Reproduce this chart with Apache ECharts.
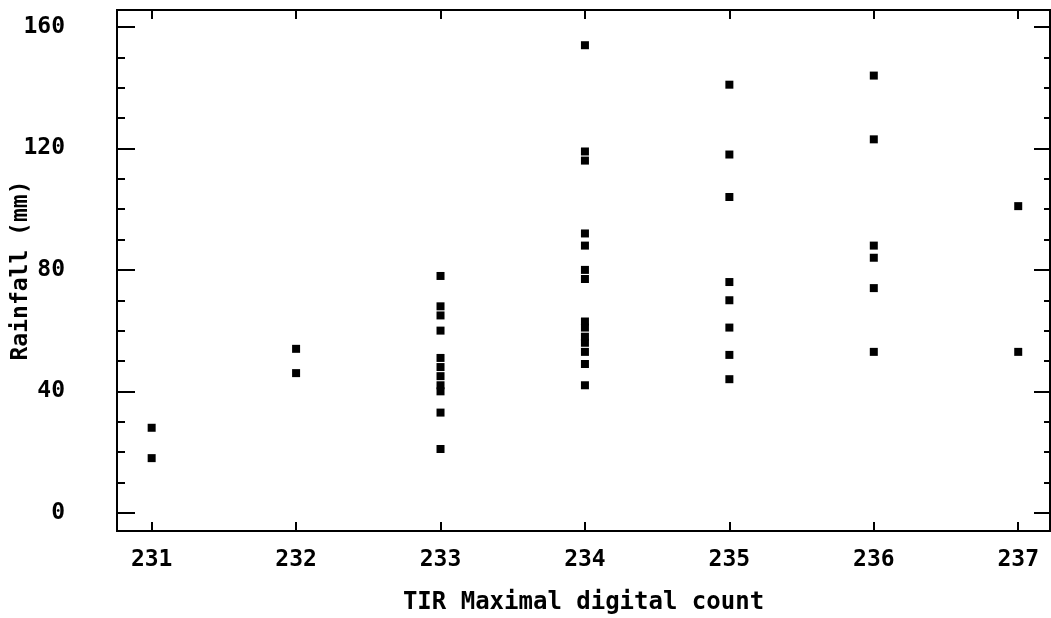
<!DOCTYPE html>
<html>
<head>
<meta charset="utf-8">
<script src="https://cdn.jsdelivr.net/npm/echarts@6/dist/echarts.min.js"></script>
<style>
  html, body { margin: 0; padding: 0; background: #fff; }
  #main { width: 1051px; height: 618px; }
</style>
</head>
<body>
<div id="main"></div>
<script>
// TIR maximal digital count (x) vs rainfall in mm (y), one list per count
const counts = [231, 232, 233, 234, 235, 236, 237];
const rain231 = [28, 18];
const rain232 = [54, 46];
const rain233 = [78, 68, 65, 60, 51, 48, 45, 42, 40, 33, 21];
const rain234 = [154, 119, 116, 92, 88, 80, 77, 63, 61, 58, 56, 53, 49, 42];
const rain235 = [141, 118, 104, 76, 70, 61, 52, 44];
const rain236 = [144, 123, 88, 84, 74, 53];
const rain237 = [101, 53];
const rainLists = [rain231, rain232, rain233, rain234, rain235, rain236, rain237];

const yLabels = [0, 40, 80, 120, 160];
const yMinor = [10, 20, 30, 50, 60, 70, 90, 100, 110, 130, 140, 150];

const points = [];
counts.forEach((c, i) => {
    rainLists[i].forEach(r => points.push([c, r]));
});

const font = '"DejaVu Sans Mono", monospace';
const black = '#000';

function xAx(pos, showLabel) {
    return {
        type: 'value',
        position: pos,
        min: 230.76,
        max: 237.22,
        splitLine: { show: false },
        axisLine: { show: true, onZero: false, lineStyle: { color: black, width: 2 } },
        axisTick: { show: true, inside: true, length: 9, customValues: counts, lineStyle: { color: black, width: 2 } },
        axisLabel: {
            show: showLabel,
            customValues: counts,
            color: black,
            fontFamily: font,
            fontSize: 23,
            fontWeight: 'bold',
            margin: 18
        },
        name: showLabel ? 'TIR Maximal digital count' : '',
        nameLocation: 'middle',
        nameGap: 60,
        nameMoveOverlap: false,
        nameTextStyle: { color: black, fontFamily: font, fontSize: 24, fontWeight: 'bold' }
    };
}

function yAx(pos, ticks, len, showLabel) {
    return {
        type: 'value',
        position: pos,
        min: -6,
        max: 165.6,
        splitLine: { show: false },
        axisLine: { show: true, onZero: false, lineStyle: { color: black, width: 2 } },
        axisTick: { show: true, inside: true, length: len, customValues: ticks, lineStyle: { color: black, width: 2 } },
        axisLabel: {
            show: showLabel,
            customValues: yLabels,
            color: black,
            fontFamily: font,
            fontSize: 23,
            fontWeight: 'bold',
            margin: 52
        },
        name: showLabel ? 'Rainfall (mm)' : '',
        nameLocation: 'middle',
        nameGap: 84,
        nameRotate: 90,
        nameMoveOverlap: false,
        nameTextStyle: { color: black, fontFamily: font, fontSize: 23, fontWeight: 'bold' }
    };
}

const myChart = echarts.init(document.getElementById('main'));
const option = {
    backgroundColor: '#fff',
    animation: false,
    grid: { left: 117, right: 1, top: 10, bottom: 87, containLabel: false, outerBoundsMode: 'none' },
    xAxis: [xAx('bottom', true), xAx('top', false)],
    yAxis: [
        yAx('left', yLabels, 18, true),
        yAx('left', yMinor, 8, false),
        yAx('right', yLabels, 16, false),
        yAx('right', yMinor, 6, false)
    ],
    series: [
        {
            type: 'scatter',
            xAxisIndex: 0,
            yAxisIndex: 0,
            symbol: 'rect',
            symbolSize: 8,
            itemStyle: { color: black, opacity: 1 },
            data: points
        }
    ]
};
myChart.setOption(option);
</script>
</body>
</html>
